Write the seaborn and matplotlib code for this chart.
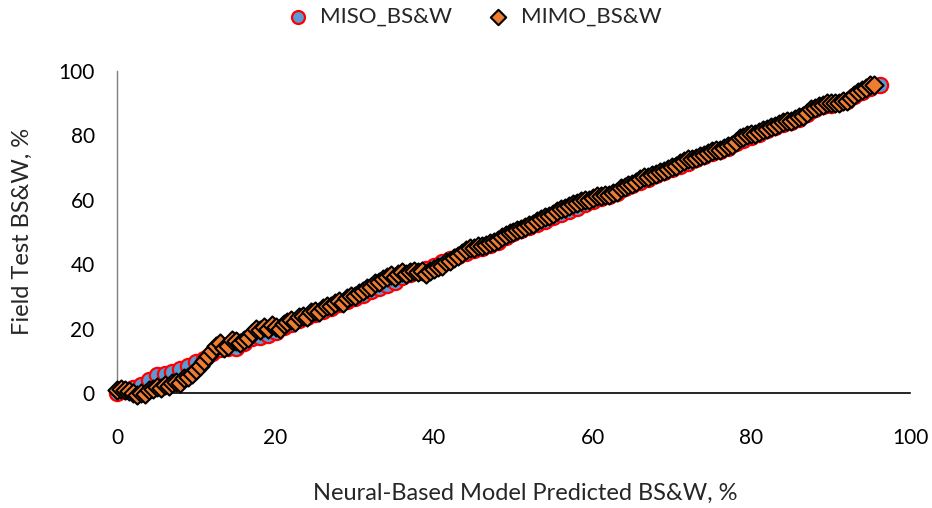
import matplotlib
matplotlib.use("Agg")
import matplotlib.pyplot as plt
import seaborn as sns
import pandas as pd

# MISO_BS&W: predicted (x) vs field test (y)
miso_x = [0, 1, 2, 3, 4, 5, 6, 7, 8, 9,
          10, 11, 12, 13, 14, 15, 16, 17, 18, 19,
          20, 21, 22, 23, 24, 25, 26, 27, 28, 29,
          30, 31, 32, 33, 34, 35, 36, 37, 38, 39,
          40, 41, 42, 43, 44, 45, 46, 47, 48, 49,
          50, 51, 52, 53, 54, 55, 56, 57, 58, 59,
          60, 61, 62, 63, 64, 65, 66, 67, 68, 69,
          70, 71, 72, 73, 74, 75, 76, 77, 78, 79,
          80, 81, 82, 83, 84, 85, 86, 87, 88, 89,
          90, 91, 92, 93, 94, 95, 96.2]
miso_y = [0, 0.5, 1.5, 2.5, 4, 5.5, 6, 6.5, 7.5, 8.5,
          9.5, 10.5, 12.5, 13.5, 14, 14, 15.5, 17, 17.5, 18,
          19, 20.5, 21.5, 22.5, 23.5, 24.5, 25.5, 26.5, 27.5, 28.5,
          29.5, 30.5, 31.5, 32.5, 33.5, 34.5, 36, 37, 37.5, 38.5,
          39.5, 40.5, 41.5, 42.5, 43.5, 44.5, 45, 46, 47, 48.5,
          49.5, 50.5, 51.5, 52.5, 53.5, 54.5, 55.5, 56.5, 57.5, 58.5,
          59.5, 60.5, 61, 62, 63.5, 64.5, 65.5, 66.5, 67.5, 68.5,
          69.5, 70.5, 71.5, 72.5, 73.5, 74.5, 75, 76, 77.5, 78.5,
          79.5, 80.5, 81.5, 82.5, 83.5, 84, 85, 86.5, 88, 89,
          89.5, 90, 90.5, 92, 93.5, 94.5, 95.5]

# MIMO_BS&W
mimo_x = [0.0, 0.5, 1.0, 1.5, 2.0, 2.5, 3.0, 3.5, 4.0, 4.5,
          5.0, 5.5, 6.0, 6.5, 7.0, 7.5, 8.0, 8.5, 9.0, 9.5,
          10.0, 10.5, 11.0, 11.5, 12.0, 12.5, 13.0, 13.5, 14.0, 14.5,
          15.0, 15.5, 16.0, 16.5, 17.0, 17.5, 18.0, 18.5, 19.0, 19.5,
          20.0, 20.5, 21.0, 21.5, 22.0, 22.5, 23.0, 23.5, 24.0, 24.5,
          25.0, 25.5, 26.0, 26.5, 27.0, 27.5, 28.0, 28.5, 29.0, 29.5,
          30.0, 30.5, 31.0, 31.5, 32.0, 32.5, 33.0, 33.5, 34.0, 34.5,
          35.0, 35.5, 36.0, 36.5, 37.0, 37.5, 38.0, 38.5, 39.0, 39.5,
          40.0, 40.5, 41.0, 41.5, 42.0, 42.5, 43.0, 43.5, 44.0, 44.5,
          45.0, 45.5, 46.0, 46.5, 47.0, 47.5, 48.0, 48.5, 49.0, 49.5,
          50.0, 50.5, 51.0, 51.5, 52.0, 52.5, 53.0, 53.5, 54.0, 54.5,
          55.0, 55.5, 56.0, 56.5, 57.0, 57.5, 58.0, 58.5, 59.0, 59.5,
          60.0, 60.5, 61.0, 61.5, 62.0, 62.5, 63.0, 63.5, 64.0, 64.5,
          65.0, 65.5, 66.0, 66.5, 67.0, 67.5, 68.0, 68.5, 69.0, 69.5,
          70.0, 70.5, 71.0, 71.5, 72.0, 72.5, 73.0, 73.5, 74.0, 74.5,
          75.0, 75.5, 76.0, 76.5, 77.0, 77.5, 78.0, 78.5, 79.0, 79.5,
          80.0, 80.5, 81.0, 81.5, 82.0, 82.5, 83.0, 83.5, 84.0, 84.5,
          85.0, 85.5, 86.0, 86.5, 87.0, 87.5, 88.0, 88.5, 89.0, 89.5,
          90.0, 90.5, 91.0, 91.5, 92.0, 92.5, 93.0, 93.5, 94.0, 94.5,
          95.0, 95.5]
mimo_y = [0.8, 1.2, 1.0, 0.6, 0.0, -0.5, 0.0, -0.3, 0.8, 1.2,
          1.8, 1.5, 2.5, 2.2, 3.0, 3.5, 3.2, 4.5, 5.0, 5.8,
          7.0, 8.5, 10.0, 11.5, 13.0, 14.5, 15.5, 14.0, 14.5, 16.5,
          16.0, 15.5, 16.5, 17.0, 18.5, 20.0, 19.5, 20.5, 20.0, 21.0,
          20.5, 20.0, 21.5, 22.0, 22.5, 22.0, 23.5, 24.0, 23.5, 25.0,
          25.5, 25.0, 26.5, 27.0, 27.0, 28.0, 28.5, 28.0, 29.5, 30.0,
          30.0, 31.0, 31.5, 32.5, 33.0, 34.0, 34.5, 35.5, 36.0, 36.5,
          36.0, 37.0, 37.5, 37.0, 37.5, 38.0, 37.5, 38.0, 37.0, 38.0,
          38.5, 39.0, 39.5, 40.5, 41.0, 42.0, 42.5, 43.5, 44.5, 45.0,
          45.0, 45.5, 45.5, 46.0, 46.5, 47.0, 47.5, 48.5, 49.0, 49.5,
          50.0, 50.5, 51.0, 51.5, 52.0, 52.5, 53.5, 54.0, 54.5, 55.0,
          55.5, 56.5, 57.0, 57.5, 58.0, 58.5, 59.0, 59.5, 60.0, 60.0,
          60.5, 61.0, 61.0, 61.5, 61.5, 62.0, 62.5, 63.5, 64.0, 64.5,
          65.0, 65.5, 66.5, 67.0, 67.0, 67.5, 68.0, 68.5, 69.0, 69.5,
          70.0, 70.5, 71.5, 72.0, 72.5, 72.5, 73.0, 73.5, 74.0, 74.5,
          75.0, 75.5, 75.5, 76.0, 76.5, 77.0, 78.0, 79.0, 79.5, 80.0,
          80.5, 80.5, 81.0, 81.5, 82.0, 82.5, 83.0, 83.5, 84.0, 84.5,
          84.5, 85.0, 85.5, 86.0, 87.0, 88.0, 88.5, 89.0, 89.5, 90.0,
          90.0, 90.0, 90.0, 90.5, 90.5, 91.5, 92.5, 93.5, 94.0, 94.5,
          95.5, 95.5]

x_ticks = [0, 20, 40, 60, 80, 100]
y_ticks = [0, 20, 40, 60, 80, 100]

sns.set_style("white")
plt.rcParams['font.family'] = ['Lato', 'DejaVu Sans']

miso = pd.DataFrame({'pred': miso_x, 'field': miso_y})
mimo = pd.DataFrame({'pred': mimo_x, 'field': mimo_y})

fig = plt.figure(figsize=(9.32, 5.08), dpi=100)
ax = fig.add_axes([0.1255, 0.2264, 0.8509, 0.6344])

sns.scatterplot(data=miso, x='pred', y='field', ax=ax, marker='o', s=120,
                color='#5B9BD5', edgecolor='#FF0000', linewidth=1.6,
                label='MISO_BS&W', clip_on=False, zorder=3)
sns.scatterplot(data=mimo, x='pred', y='field', ax=ax, marker='D', s=85,
                color='#ED7D31', edgecolor='black', linewidth=1.5,
                label='MIMO_BS&W', clip_on=False, zorder=4)

ax.set_xlim(0, 100)
ax.set_ylim(0, 100)
ax.set_xticks(x_ticks)
ax.set_yticks(y_ticks)
ax.tick_params(axis='both', length=0, labelsize=15, colors='black')
ax.tick_params(axis='x', pad=25)
ax.tick_params(axis='y', pad=16)

ax.set_xlabel('Neural-Based Model Predicted BS&W, %', fontsize=17)
ax.set_ylabel('Field Test BS&W, %', fontsize=17)
ax.xaxis.set_label_coords(0.5145, -0.28)
ax.yaxis.set_label_coords(-0.106, 0.5)

sns.despine(ax=ax, top=True, right=True)
ax.spines['left'].set_color('#7F7F7F')
ax.spines['left'].set_linewidth(1.0)
ax.spines['bottom'].set_color('black')
ax.spines['bottom'].set_linewidth(1.2)
ax.spines['left'].set_zorder(1)

ax.legend(loc='upper center', bbox_to_anchor=(0.443, 1.26), ncol=2,
          frameon=False, fontsize=16, handletextpad=0.0, columnspacing=1.1,
          markerscale=0.85)

fig.savefig('out.png', dpi=100)
